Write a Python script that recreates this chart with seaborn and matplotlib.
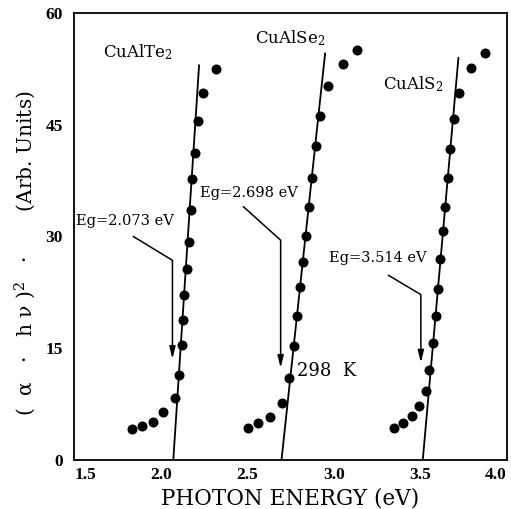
import matplotlib
matplotlib.use("Agg")
import matplotlib.pyplot as plt
import seaborn as sns
import pandas as pd

# absorption edge data, (alpha*h*nu)^2 vs photon energy
te_x = [1.833, 1.894, 1.954, 2.016, 2.083, 2.106, 2.122, 2.131, 2.137, 2.151,
        2.164, 2.175, 2.183, 2.199, 2.218, 2.243, 2.318]
te_y = [4.2, 4.5, 5.1, 6.4, 8.3, 11.4, 15.4, 18.8, 22.1, 25.6,
        29.3, 33.6, 37.7, 41.2, 45.5, 49.3, 52.5]

se_x = [2.503, 2.564, 2.632, 2.699, 2.743, 2.770, 2.786, 2.805, 2.820, 2.838,
        2.859, 2.872, 2.897, 2.920, 2.968, 3.051, 3.136]
se_y = [4.3, 5.0, 5.8, 7.7, 11.0, 15.3, 19.3, 23.2, 26.6, 30.0,
        34.0, 37.8, 42.1, 46.2, 50.2, 53.2, 55.0]

s_x = [3.349, 3.401, 3.450, 3.494, 3.532, 3.551, 3.575, 3.588, 3.600, 3.613,
       3.629, 3.642, 3.658, 3.671, 3.694, 3.725, 3.790, 3.873]
s_y = [4.25, 4.9, 5.9, 7.25, 9.3, 12.1, 15.7, 19.3, 23.0, 27.0,
       30.8, 34.0, 37.9, 41.8, 45.8, 49.2, 52.6, 54.6]

# linear fits: (Eg, 0) -> top end
fit_te = ([2.073, 2.222], [0, 53.0])
fit_se = ([2.698, 2.950], [0, 54.6])
fit_s = ([3.514, 3.720], [0, 54.0])

# Eg annotations: text pos, leader start, corner, arrow tip
eg_labels = ["Eg=2.073 eV", "Eg=2.698 eV", "Eg=3.514 eV"]
eg_text_xy = [(1.512, 32.1), (2.227, 35.8), (2.972, 27.1)]
eg_start = [(1.842, 30.0), (2.478, 34.0), (3.315, 24.8)]
eg_corner = [(2.068, 26.8), (2.693, 29.5), (3.503, 22.2)]
eg_tip = [(2.068, 13.2), (2.693, 12.0), (3.503, 12.7)]

compounds = ["CuAlTe$_2$", "CuAlSe$_2$", "CuAlS$_2$"]
compound_xy = [(1.667, 54.8), (2.545, 56.6), (3.284, 50.5)]

xticks = [1.5, 2.0, 2.5, 3.0, 3.5, 4.0]
yticks = [0, 15, 30, 45, 60]

sns.set_theme(style="white")
plt.rcParams["font.family"] = ["DejaVu Serif"]
plt.rcParams["mathtext.fontset"] = "dejavuserif"
plt.rcParams["mathtext.default"] = "regular"
plt.rcParams["text.color"] = "black"
plt.rcParams["axes.labelcolor"] = "black"

df = pd.DataFrame({
    "energy": te_x + se_x + s_x,
    "signal": te_y + se_y + s_y,
    "sample": ["te"] * len(te_x) + ["se"] * len(se_x) + ["s"] * len(s_x),
})

fig, ax = plt.subplots(figsize=(5.11, 5.09), dpi=100)
fig.subplots_adjust(left=0.145, right=0.992, bottom=0.0963, top=0.9745)

sns.scatterplot(data=df, x="energy", y="signal", color="black", s=52,
                edgecolor="black", linewidth=0, legend=False, ax=ax, zorder=3)

for fx, fy in [fit_te, fit_se, fit_s]:
    ax.plot(fx, fy, color="black", lw=1.3)

for lab, txy, st, co, tp in zip(eg_labels, eg_text_xy, eg_start, eg_corner, eg_tip):
    ax.text(txy[0], txy[1], lab, fontsize=10.5, va="center", ha="left",
            color="black")
    ax.plot([st[0], co[0], tp[0]], [st[1], co[1], tp[1] + 2], color="black", lw=1.1)
    ax.annotate("", xy=tp, xytext=(tp[0], tp[1] + 2.5),
                arrowprops=dict(arrowstyle="-|>,head_length=0.6,head_width=0.15",
                                color="black", lw=1.1))

for lab, cxy in zip(compounds, compound_xy):
    ax.text(cxy[0], cxy[1], lab, fontsize=12, va="center", ha="left", color="black")

ax.text(2.788, 11.9, "298  K", fontsize=13, va="center", ha="left", color="black")

ax.set_xlim(1.5, 4.0)
ax.set_ylim(0, 60)
ax.set_xticks(xticks)
ax.set_xticklabels([f"{t:.1f}" for t in xticks])
ax.set_yticks(yticks)
ax.set_yticklabels([str(t) for t in yticks])
xl = ax.get_xticklabels()
xl[0].set_ha("left")
xl[-1].set_ha("right")

ax.tick_params(axis="x", direction="in", length=18, width=1.2, pad=5,
               labelsize=12.5, colors="black")
ax.tick_params(axis="y", direction="in", length=20, width=1.2, pad=8,
               labelsize=12.5, colors="black")
for lab in ax.get_xticklabels() + ax.get_yticklabels():
    lab.set_fontfamily("Liberation Serif")
    lab.set_fontweight("bold")

for sp in ax.spines.values():
    sp.set_visible(True)
    sp.set_color("black")
    sp.set_linewidth(1.3)

ax.set_xlabel("PHOTON ENERGY (eV)", fontsize=15.5, labelpad=3)
ax.set_ylabel("(  α   ·   h ν )$^2$   ·       (Arb. Units)", fontsize=14.5)
ax.yaxis.set_label_coords(-0.083, 0.462)

fig.savefig("out.png", dpi=100)
